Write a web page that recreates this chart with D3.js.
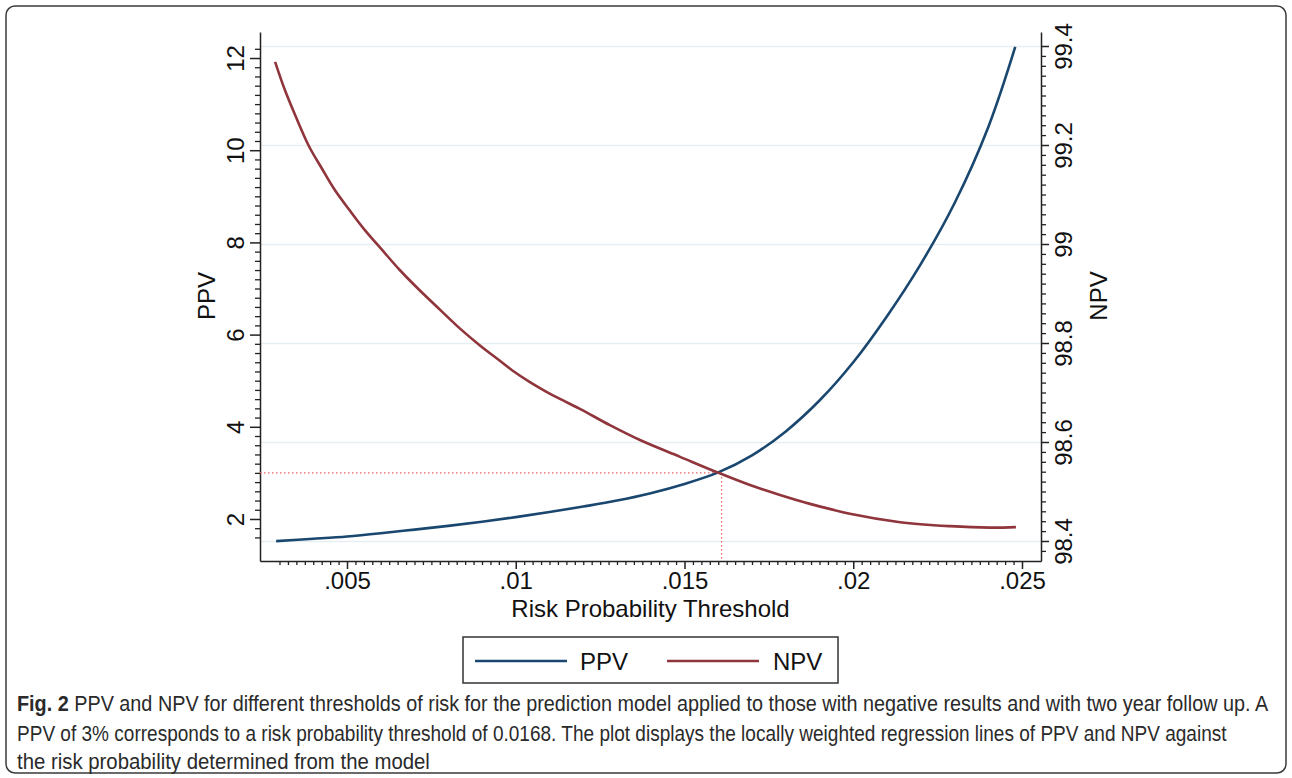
<!DOCTYPE html>
<html>
<head>
<meta charset="utf-8">
<script src="https://cdn.jsdelivr.net/npm/d3@7"></script>
<style>
  html, body { margin: 0; padding: 0; background: #fff; }
  svg { display: block; }
</style>
</head>
<body>
<svg id="chart" width="1292" height="778"></svg>
<script>
// ---------- data ----------
const ppvThreshold = [0.0029, 0.004, 0.005, 0.006, 0.007, 0.008, 0.009, 0.010, 0.011, 0.012, 0.013, 0.014, 0.015, 0.016, 0.017, 0.018, 0.019, 0.020, 0.021, 0.022, 0.023, 0.024, 0.0248];
const ppvValues    = [1.52, 1.57, 1.62, 1.69, 1.77, 1.85, 1.94, 2.04, 2.15, 2.27, 2.40, 2.56, 2.76, 3.01, 3.38, 3.90, 4.57, 5.40, 6.40, 7.53, 8.85, 10.50, 12.24];

const npvThreshold = [0.00287, 0.00316, 0.00346, 0.00387, 0.00426, 0.00464, 0.00509, 0.00553, 0.00604, 0.00657, 0.00716, 0.00776, 0.00835, 0.00894, 0.00953, 0.00989, 0.01042, 0.01087, 0.01131, 0.0119, 0.01279, 0.01368, 0.01487, 0.01596, 0.01694, 0.01783, 0.01872, 0.0199, 0.02139, 0.02287, 0.02405, 0.02482];
const npvValues    = [99.368, 99.311, 99.261, 99.198, 99.152, 99.109, 99.067, 99.028, 98.988, 98.947, 98.906, 98.867, 98.829, 98.795, 98.764, 98.745, 98.721, 98.703, 98.687, 98.667, 98.634, 98.604, 98.570, 98.539, 98.513, 98.493, 98.475, 98.455, 98.438, 98.430, 98.427, 98.428];

const xTicks = [0.005, 0.01, 0.015, 0.02, 0.025];
const xTickLabels = [".005", ".01", ".015", ".02", ".025"];
const ppvTicks = [2, 4, 6, 8, 10, 12];
const npvTicks = [98.4, 98.6, 98.8, 99, 99.2, 99.4];
const npvTickLabels = ["98.4", "98.6", "98.8", "99", "99.2", "99.4"];

const cutoffPPV = 3;
const cutoffThreshold = 0.0161;

const seriesNames = ["PPV", "NPV"];
const xTitle = "Risk Probability Threshold";
const captionBold = "Fig. 2";
const captionLines = [
  " PPV and NPV for different thresholds of risk for the prediction model applied to those with negative results and with two year follow up. A",
  "PPV of 3% corresponds to a risk probability threshold of 0.0168. The plot displays the locally weighted regression lines of PPV and NPV against",
  "the risk probability determined from the model"
];

// ---------- layout ----------
const svg = d3.select("#chart");
const L = 260, R = 1041, T = 32, B = 561;
const FONT = "'Liberation Sans', Arial, Helvetica, sans-serif";
const blue = "#1a476f", red = "#90353b";

// outer rounded frame
svg.append("rect")
  .attr("x", 6).attr("y", 6).attr("width", 1280).attr("height", 767)
  .attr("rx", 9).attr("ry", 9)
  .attr("fill", "#fff").attr("stroke", "#3a3a3a").attr("stroke-width", 1.5);

// scales
const x = d3.scaleLinear().domain([0.0024222, 0.025563]).range([L, R]);
const yL = d3.scaleLinear().domain([1.0885, 12.5645]).range([B, T]);
const yR = d3.scaleLinear().domain([98.3596, 99.4283]).range([B, T]);

// gridlines (at NPV ticks)
svg.append("g")
  .attr("transform", `translate(${L},0)`)
  .call(d3.axisRight(yR).tickValues(npvTicks).tickSize(R - L).tickFormat(""))
  .call(g => g.select(".domain").remove())
  .call(g => g.selectAll("line").attr("stroke", "#e6eef1").attr("stroke-width", 1.6));

// minor ticks
const minorLeft = d3.range(16, 123, 2).map(v => v / 10).filter(v => !ppvTicks.includes(v));
const minorRight = d3.range(4919, 4970, 1).map(v => +(v / 50).toFixed(2)).filter(v => !npvTicks.some(t => Math.abs(t - v) < 1e-6) && v >= 98.38 && v <= 99.38);
const minorX = d3.range(12, 101, 1).map(v => v * 0.00025).filter(v => !xTicks.some(t => Math.abs(t - v) < 1e-9));

svg.append("g").attr("transform", `translate(${L},0)`)
  .call(d3.axisLeft(yL).tickValues(minorLeft).tickSize(5).tickFormat(""))
  .call(g => g.select(".domain").remove())
  .call(g => g.selectAll("line").attr("stroke", "#222").attr("stroke-width", 1.3));
svg.append("g").attr("transform", `translate(${R},0)`)
  .call(d3.axisRight(yR).tickValues(minorRight).tickSize(5).tickFormat(""))
  .call(g => g.select(".domain").remove())
  .call(g => g.selectAll("line").attr("stroke", "#222").attr("stroke-width", 1.3));
svg.append("g").attr("transform", `translate(0,${B})`)
  .call(d3.axisBottom(x).tickValues(minorX).tickSize(4).tickFormat(""))
  .call(g => g.select(".domain").remove())
  .call(g => g.selectAll("line").attr("stroke", "#222").attr("stroke-width", 1.3));

// main axes
function styleAxis(g) {
  g.select(".domain").attr("stroke", "#222").attr("stroke-width", 1.5);
  g.selectAll(".tick line").attr("stroke", "#222").attr("stroke-width", 1.5);
  g.selectAll("text").attr("font-family", FONT).attr("font-size", 24).attr("fill", "#111");
}
svg.append("g").attr("transform", `translate(${L},0)`)
  .call(d3.axisLeft(yL).tickValues(ppvTicks).tickSize(10).tickSizeOuter(0).tickFormat(d3.format("d")))
  .call(styleAxis)
  .call(g => g.selectAll(".tick text")
    .attr("x", null).attr("dy", null).attr("text-anchor", "middle")
    .attr("transform", "translate(-16,0) rotate(-90)"));
svg.append("g").attr("transform", `translate(${R},0)`)
  .call(d3.axisRight(yR).tickValues(npvTicks).tickSize(8).tickSizeOuter(0).tickFormat((d, i) => npvTickLabels[i]))
  .call(styleAxis)
  .call(g => g.selectAll(".tick text")
    .attr("x", null).attr("dy", null).attr("text-anchor", "middle")
    .attr("transform", "translate(31,0) rotate(-90)"));
svg.append("g").attr("transform", `translate(0,${B})`)
  .call(d3.axisBottom(x).tickValues(xTicks).tickSize(8).tickSizeOuter(0).tickFormat((d, i) => xTickLabels[i]))
  .call(styleAxis)
  .call(g => g.selectAll(".tick text").attr("y", 28).attr("dy", null));

// axis titles
svg.append("text").attr("transform", "translate(215,296) rotate(-90)")
  .attr("text-anchor", "middle").attr("font-family", FONT).attr("font-size", 24).attr("fill", "#111")
  .text(seriesNames[0]);
svg.append("text").attr("transform", "translate(1107,296) rotate(-90)")
  .attr("text-anchor", "middle").attr("font-family", FONT).attr("font-size", 24).attr("fill", "#111")
  .text(seriesNames[1]);
svg.append("text").attr("x", (L + R) / 2).attr("y", 617)
  .attr("text-anchor", "middle").attr("font-family", FONT).attr("font-size", 24).attr("fill", "#111")
  .text(xTitle);

// dotted reference lines
const ref = svg.append("g").attr("stroke", "#f06060").attr("stroke-width", 1.2).attr("stroke-dasharray", "1.5,2.5").attr("fill", "none");
ref.append("line").attr("x1", L).attr("x2", x(cutoffThreshold)).attr("y1", yL(cutoffPPV)).attr("y2", yL(cutoffPPV));
ref.append("line").attr("x1", x(cutoffThreshold)).attr("x2", x(cutoffThreshold)).attr("y1", yL(cutoffPPV)).attr("y2", B);

// curves
const ppvData = ppvThreshold.map((t, i) => [t, ppvValues[i]]);
const npvData = npvThreshold.map((t, i) => [t, npvValues[i]]);
svg.append("path").datum(ppvData)
  .attr("fill", "none").attr("stroke", blue).attr("stroke-width", 2.6)
  .attr("d", d3.line().x(d => x(d[0])).y(d => yL(d[1])).curve(d3.curveCatmullRom.alpha(0.5)));
svg.append("path").datum(npvData)
  .attr("fill", "none").attr("stroke", red).attr("stroke-width", 2.6)
  .attr("d", d3.line().x(d => x(d[0])).y(d => yR(d[1])).curve(d3.curveCatmullRom.alpha(0.5)));

// legend
const lg = svg.append("g");
lg.append("rect").attr("x", 463).attr("y", 637).attr("width", 375).attr("height", 46)
  .attr("fill", "#fff").attr("stroke", "#333").attr("stroke-width", 1.5);
lg.append("line").attr("x1", 475).attr("x2", 567).attr("y1", 661).attr("y2", 661).attr("stroke", blue).attr("stroke-width", 2.6);
lg.append("text").attr("x", 580).attr("y", 669.5).attr("font-family", FONT).attr("font-size", 24).attr("fill", "#111").text(seriesNames[0]);
lg.append("line").attr("x1", 667).attr("x2", 759).attr("y1", 661).attr("y2", 661).attr("stroke", red).attr("stroke-width", 2.6);
lg.append("text").attr("x", 773).attr("y", 669.5).attr("font-family", FONT).attr("font-size", 24).attr("fill", "#111").text(seriesNames[1]);

// caption (narrowed horizontally to match the condensed face)
const CAPFONT = "'Liberation Sans Narrow', 'Liberation Sans', Arial, sans-serif";
const capY = [711, 741, 769];
const capW = [1252, 1210, 413];
captionLines.forEach((line, i) => {
  const g = svg.append("g");
  const t = g.append("text").attr("x", 0).attr("y", 0)
    .attr("font-family", CAPFONT).attr("font-size", 22).attr("fill", "#2a2a2a");
  if (i === 0) t.append("tspan").attr("font-weight", "bold").text(captionBold);
  t.append("tspan").text(line);
  const natural = t.node().getComputedTextLength();
  g.attr("transform", `translate(17,${capY[i]}) scale(${capW[i] / natural},1)`);
});
</script>
</body>
</html>
